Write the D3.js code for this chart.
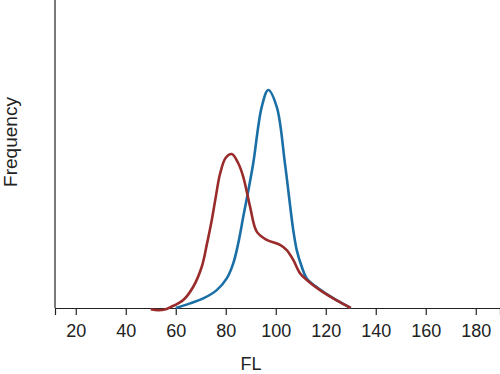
<!DOCTYPE html>
<html>
<head>
<meta charset="utf-8">
<script src="https://cdn.jsdelivr.net/npm/d3@7"></script>
<style>
  body { margin: 0; background: #fff; }
  text { font-family: "Liberation Sans", Arial, sans-serif; fill: #222; }
</style>
</head>
<body>
<div id="chart"></div>
<script>
// FL values and relative frequency
const blueFL = [60, 65.7, 71, 76.4, 80.4, 83, 85, 87, 89, 91, 94.4, 97, 100.4, 103.7, 107, 108.4, 110.4, 112.4, 117.7, 123, 127.7, 130];
const blueFreq = [0, 1.5, 3.1, 5.8, 9.6, 14.5, 21, 29.6, 38, 47, 65.3, 70.8, 65.3, 46.8, 25.3, 18.8, 13.4, 9.6, 6.0, 3.2, 1.0, 0];

const redFL = [50, 53, 56, 57.7, 63, 67, 70.4, 72.4, 74.4, 76, 77.7, 80, 82.4, 85, 87, 89.7, 92.4, 96.4, 101.7, 104.4, 107, 109.7, 112.4, 117.7, 123, 127.7, 130];
const redFreq = [-0.4, -0.7, -0.4, 0.2, 2.6, 6.9, 13.4, 20.5, 28.5, 36, 43.5, 48.8, 50, 47, 42.6, 33, 24.8, 22.1, 20.5, 18.8, 15.6, 11.3, 9.1, 5.8, 3.1, 1.0, 0];

const xTicks = [20, 40, 60, 80, 100, 120, 140, 160, 180];

const W = 500, H = 374;

const svg = d3.select('#chart').append('svg')
  .attr('width', W).attr('height', H);

// x: 20 FL per 50 px, 0 sits at ~25.7 px
const x = d3.scaleLinear().domain([11.7, 189.7]).range([55, 500]);
const y = d3.scaleLinear().domain([0, 100]).range([308, 0]);

// axes
svg.append('line')
  .attr('x1', 55).attr('x2', 55).attr('y1', 0).attr('y2', 308)
  .attr('stroke', '#222').attr('stroke-width', 1.2);

const xAxis = svg.append('g')
  .attr('transform', 'translate(0,308)')
  .call(d3.axisBottom(x).tickValues(xTicks).tickSize(7).tickPadding(9));
xAxis.select('.domain').attr('stroke', '#222').attr('stroke-width', 1.2);
xAxis.selectAll('.tick line').attr('stroke', '#222').attr('stroke-width', 1.2);
xAxis.selectAll('.tick text')
  .style('font-family', '"Liberation Sans", Arial, sans-serif')
  .style('font-size', '18px').attr('fill', '#222');

svg.append('text')
  .attr('x', 251).attr('y', 370)
  .attr('text-anchor', 'middle')
  .style('font-size', '18px')
  .text('FL');

svg.append('text')
  .attr('transform', 'translate(17,142) rotate(-90)')
  .attr('text-anchor', 'middle')
  .style('font-size', '19px')
  .text('Frequency');

const line = d3.line()
  .x(d => x(d[0]))
  .y(d => y(d[1]))
  .curve(d3.curveCatmullRom.alpha(0.5));

svg.append('path')
  .datum(d3.zip(blueFL, blueFreq))
  .attr('d', line)
  .attr('fill', 'none')
  .attr('stroke', '#1a6fa6')
  .attr('stroke-width', 2.6);

svg.append('path')
  .datum(d3.zip(redFL, redFreq))
  .attr('d', line)
  .attr('fill', 'none')
  .attr('stroke', '#9a2b2b')
  .attr('stroke-width', 2.6);
</script>
</body>
</html>
